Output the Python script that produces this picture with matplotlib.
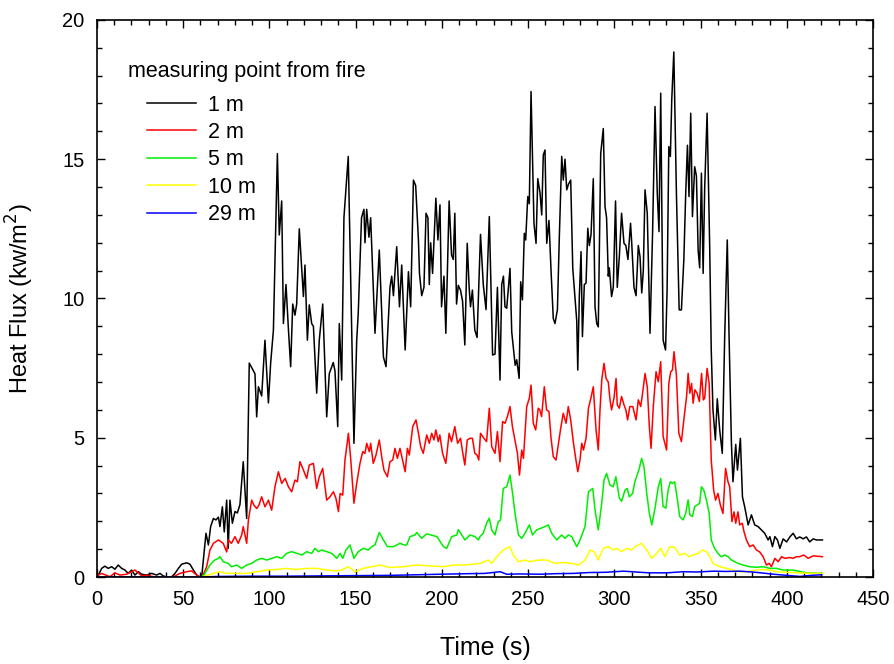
import numpy as np
import matplotlib.pyplot as plt
from matplotlib.ticker import MultipleLocator

plt.rcParams['font.family'] = ['Liberation Sans', 'DejaVu Sans']

# 1 m
t_1m = [0, 0.8, 2.7, 4.6, 6.5, 8.5, 10.4, 12.3, 14.3, 16.2, 18.1, 20.1, 22, 24, 25.9, 28.8, 31.7, 34.6, 36.5,
        38.4, 40.4, 43.3, 45.2, 47.2, 49.1, 52, 53.9, 55.9, 57.8, 59.7, 60.7,
        63.2, 64.6, 65.9, 67.5, 69, 70.4, 71.3, 72.7, 73.8, 75.2, 76.1, 77.1, 78.5, 80, 81.4, 82.9, 84.8, 85.8,
        86.8, 88.3, 91.6, 92.6, 93.6, 95.5, 97.4, 99.4, 100.7, 102.3, 104.6, 105.7, 107.1, 108.1, 109.6, 111,
        112.3, 113.5, 114.8, 115.8, 117.3, 119.7, 120.6, 122, 123.1, 124.5, 125.5, 127.4, 128.9, 130.9, 133.2,
        134.7, 137, 138, 139.6,
        140.5, 141.9, 143.2, 145.7, 149, 150.6, 151.5, 153.4, 154.8, 155.4, 156.4, 157.7, 158.7, 161.2, 163.7,
        166.1, 167.6, 169.9, 170.9, 171.9, 173.8, 175.4, 176.7, 178.7, 180.6, 181.9, 183.5, 184.8, 186.4, 187,
        188.3, 189.6, 190.8, 191.9, 192.7, 193.5, 194.6, 196.5, 197.7, 198.9, 199.8, 201.2, 202.3, 204.2, 205.6,
        206.6, 207.5, 208.5, 209.5, 210.8, 212, 213.3, 214.7, 215.8, 216.6, 217.7, 219.1, 220.4, 222.4,
        224, 225.6, 227.5, 229.4, 230.8, 232.2, 233.7, 234.7, 235.7, 236.6, 237.6, 239.5, 240.5, 242.5, 243.4,
        244.8, 245.7, 246.7, 247.8, 248.6, 249.8, 250.7, 251.7, 253.4, 254.6, 255.6, 256.9, 257.9, 258.8, 259.8,
        260.8, 262.1, 263.3, 264.6, 265.6, 267, 268.1, 269.5, 270.4, 271.4, 272.4, 273.4, 274.7, 275.9, 278.2,
        278.8, 279.7, 280.7, 281.5, 282.6, 283.6, 284.6, 285.5, 286.5, 287.8, 288.8, 289.8, 290.7, 292.1, 293.6,
        294.6, 295.5, 296.5, 297.1, 298.4, 299.4, 300.7, 301.7, 302.9, 304.2, 305.6, 306.7, 307.9, 309.4,
        310.1, 311.4, 312.6, 313.9, 314.9, 315.9, 316.8, 317.8, 319.1, 320.7, 322.2, 323.6, 324.9, 325.9, 326.9,
        328.3, 329.7, 330.6, 331.6, 332.5, 333.3, 334.5, 336, 337.6, 338.9, 340.3, 341.4, 342.4, 343.3, 344.3,
        345.3, 346.6, 347.6, 348.6, 349.5, 350.5, 351.5, 352.4, 353.8, 355.3, 356.2, 357.2, 358.6, 359.7, 361.1,
        362.6, 364, 365.5, 366.5, 367.9, 368.8, 370.4, 371.4, 373.1, 374.3, 375.6, 377.6, 379.5, 381.4, 383.4,
        385.3, 387.2, 389.2, 390.2, 391.7, 393.1, 394.6, 396, 397.9, 399.9, 401.8, 403.7, 405.6, 407.5, 409.5,
        411.4, 413.3, 415.3, 417.2, 420.7]
q_1m = [0.0, 0.07, 0.31, 0.39, 0.31, 0.37, 0.28, 0.43, 0.31, 0.25, 0.13, 0.25, 0.07, 0.19, 0.1, 0.07, 0.13, 0.07,
        0.13, 0.04, 0.0, 0.01, 0.13, 0.31, 0.46, 0.51, 0.46, 0.25, 0.07, 0.0, 0.0,
        1.57, 1.15, 1.81, 2.1, 2.05, 2.15, 1.81, 2.52, 1.62, 2.76, 1.03, 2.76, 1.93, 2.35, 2.3, 2.6, 4.14, 3.12,
        2.1, 7.68, 7.3, 5.75, 6.83, 6.5, 8.5, 6.25, 7.68, 8.86, 15.2, 12.28, 13.5, 9.1, 10.5, 8.9,
        7.55, 9.8, 9.4, 9.8, 12.5, 10.07, 11.2, 8.5, 9.77, 9.1, 9.0, 6.6, 8.5, 9.8, 5.75,
        7.3, 7.7, 7.4, 5.4,
        9.1, 7.07, 12.9, 15.1, 4.8, 8.5, 9.47, 12.9, 13.2, 12.0, 13.2, 12.2, 12.9, 8.75, 11.74,
        7.9, 7.55, 10.4, 10.8, 10.1, 11.86, 9.7, 11.2, 8.15, 10.96, 9.7, 14.25, 14.05, 12.1, 10.9,
        10.1, 10.4, 13.06, 12.9, 10.5, 12.0, 10.9, 13.6, 12.1, 13.36, 9.7, 10.8, 8.75, 13.5, 11.56,
        11.4, 13.06, 9.8, 10.47, 10.3, 9.9, 8.33, 11.98, 10.4, 9.7, 10.3, 8.87, 8.6, 12.3,
        10.5, 9.6, 12.94, 7.97, 8.0, 10.4, 7.07, 10.5, 10.8, 9.7, 9.65, 11.08, 8.8, 7.6, 7.8,
        7.13, 10.6, 9.95, 12.34, 12.1, 13.66, 13.4, 17.43, 12.7, 11.98, 14.3, 13.8, 13.0, 15.15, 15.33,
        11.98, 12.8, 11.0, 9.28, 9.1, 9.6, 12.2, 15.1, 14.25, 15.0, 13.9, 14.1, 14.25, 11.08, 9.2,
        7.43, 10.07, 11.68, 8.63, 10.5, 10.55, 12.52, 11.9, 12.3, 14.3, 9.7, 9.1, 8.98, 15.2, 16.1,
        13.3, 12.9, 10.8, 11.1, 10.07, 10.4, 13.5, 10.4, 11.5, 13.06, 11.98, 11.9, 11.4, 12.7,
        11.98, 10.4, 10.1, 11.9, 11.5, 10.2, 11.0, 13.9, 13.06, 8.75, 12.4, 16.89, 13.78, 12.4, 17.37,
        8.5, 8.15, 10.3, 15.45, 15.1, 17.13, 18.85, 13.78, 9.59, 9.59, 11.38, 13.78, 15.5, 13.66, 16.65,
        12.94, 14.73, 14.4, 11.74, 11.1, 14.5, 10.9, 13.97, 16.65, 11.85, 8.15, 6.0, 4.92, 6.4, 5.28,
        4.44, 8.63, 12.1, 8.75, 4.8, 3.42, 4.76, 3.84, 4.98, 2.88, 2.52, 1.87, 2.23, 1.87, 1.81,
        1.69, 1.57, 1.33, 1.45, 1.09, 1.45, 1.33, 1.03, 1.37, 1.26, 1.44, 1.57, 1.37, 1.44, 1.37,
        1.44, 1.26, 1.37, 1.33, 1.33]

# 2 m
t_2m = [0, 0.8, 2.7, 7.5, 10.4, 13.3, 17.2, 20.1, 22, 24, 25.9, 28.8, 32.7, 40.4, 44.3, 48.1, 52, 54.9, 57.8,
        59.7, 61,
        63.6, 65.5, 67.5, 70.4, 73.2, 75.2, 76.1, 78, 80, 81.9, 83.9, 84.8, 86.8, 87.8, 89.7, 91, 92.6, 93.9,
        95.5, 97.4, 99.4, 101.3, 103.2, 105.2, 107.1, 109.1, 111, 112.9, 114.8, 116.2, 117.7, 119.7, 121.6,
        123.1, 125.5, 127.4, 128.9, 130.9, 133.2, 135.1, 137.1, 138.6, 140,
        141, 142.5, 143.8, 145.8, 147.1, 149, 150.6, 152.5, 154.1, 155.4, 156.4, 157.9, 158.7, 160.2, 161.8,
        163.7, 165.1, 166.4, 168.4, 169.9, 171.5, 172.8, 174.2, 175.7, 177.2, 178.7, 180, 181.1, 183.1, 185,
        186.4, 187.7, 189.2, 191.2, 192.7, 194.1, 195.4, 196.5, 197.9, 198.8, 200.4, 202.3, 204.2, 205.6,
        207.5, 209.1, 210.8, 212, 213.3, 214.7, 216.3, 217.7, 219.1, 220.4, 221.4, 222.4,
        224.4, 225.9, 227.5, 228.9, 230.8, 232.2, 233.7, 235.2, 236.6, 238, 239.5, 240.9, 242.5, 243.8, 245,
        246.3, 247.3, 249.2, 250.7, 251.7, 253, 254.4, 255.9, 256.8, 257.8, 259.4, 260.7, 262.1, 263.3, 264.6,
        266.2, 267.5, 268.9, 270.4, 272, 273.3, 274.7, 276.2, 277.6, 278.8, 280.1, 281.1, 282.1, 283.6, 285,
        286.4, 287.8, 289.4, 290.7, 291.7, 292.7, 294, 295.2, 296.5, 297.5, 298.4, 299.8, 301, 301.7, 302.9,
        304.2, 305.6, 306.7, 307.7, 309,
        310.7, 312.6, 313.9, 315.3, 316.4, 317.8, 319.1, 320.3, 321.3, 322.6, 324.2, 325.5, 326.9, 328.3,
        330.3, 331.6, 332.7, 333.7, 334.6, 336, 337.4, 338.9, 340.3, 341.9, 342.8, 343.8, 344.8, 345.7, 346.7,
        348, 349.3, 350.6, 351.6, 352.4, 353.8, 355, 356.2, 357.6, 358.7, 360.1, 361.5, 363, 364.5, 365.9,
        366.9, 368.2, 369.4, 370.4, 371.7, 372.7, 374.2, 375.2, 376.6, 378.5, 380.5, 382.4, 384.3, 386.3,
        388.2, 389.8, 391.1, 393.1, 395, 397, 398.9, 401.8, 403.7, 405.6, 407.5, 409.9, 412.4, 415.3, 420.7]
q_2m = [0.0, 0.07, 0.13, 0.01, 0.15, 0.07, 0.1, 0.19, 0.25, 0.15, 0.04, 0.07, 0.01, 0.0, 0.01, 0.13, 0.19, 0.22,
        0.07, 0.0, 0.0,
        0.37, 0.97, 1.21, 1.33, 1.21, 0.9, 1.33, 1.21, 1.45, 1.21, 1.51, 1.81, 1.21, 2.05, 2.76, 2.58, 2.46, 2.58,
        2.88, 2.52, 2.76, 2.4, 3.24, 3.78, 3.36, 3.54, 3.24, 3.06, 3.48, 3.42, 4.14, 3.84, 3.54,
        4.02, 4.08, 3.18, 3.6, 3.9, 2.76, 2.88, 3.06, 2.82, 2.35,
        3.0, 2.94, 4.2, 5.16, 4.26, 2.65, 3.36, 4.08, 4.5, 4.44, 4.8, 4.5, 4.8, 4.08, 4.38,
        4.92, 4.32, 3.84, 3.6, 4.14, 4.2, 4.62, 4.26, 4.62, 4.2, 3.78, 4.62, 4.38, 5.4, 5.64,
        5.16, 4.68, 4.44, 5.1, 4.8, 5.16, 4.92, 5.28, 4.86, 5.1, 4.44, 4.08, 5.16, 4.86,
        5.4, 4.8, 4.98, 4.5, 4.02, 4.92, 4.98, 4.98, 4.44, 4.38, 4.2, 5.16,
        4.98, 4.86, 6.06, 4.68, 4.44, 5.22, 4.14, 5.58, 5.52, 5.76, 6.12, 5.4, 4.86, 4.44, 3.66,
        4.56, 4.26, 6.12, 6.42, 6.89, 5.52, 5.28, 6.06, 6.0, 5.76, 6.83, 6.0, 5.94, 4.98, 4.32,
        4.2, 4.74, 5.34, 5.88, 5.52, 6.12, 5.64, 4.86, 4.26, 3.78, 4.2, 4.8, 4.56, 4.98, 6.06,
        6.42, 6.83, 5.28, 4.56, 6.0, 7.07, 7.67, 7.13, 7.0, 6.36, 6.0, 6.42, 7.13, 6.18, 6.06,
        6.48, 6.18, 6.0, 5.64, 6.12,
        6.12, 5.64, 6.36, 6.12, 6.6, 7.31, 6.83, 5.4, 4.62, 6.12, 7.37, 7.01, 7.73, 5.04,
        4.56, 6.95, 7.37, 7.43, 8.09, 7.25, 5.16, 4.86, 5.64, 6.48, 7.31, 6.6, 6.95, 6.24, 6.72,
        6.6, 6.3, 7.31, 6.36, 6.42, 7.49, 6.95, 4.2, 3.12, 2.76, 3.0, 2.58, 2.28, 3.9, 3.42,
        3.24, 1.99, 2.34, 1.93, 2.34, 1.87, 1.93, 1.63, 1.33, 1.09, 1.15, 0.97, 0.9, 0.73,
        0.43, 0.49, 0.37, 0.67, 0.55, 0.73, 0.67, 0.7, 0.67, 0.73, 0.73, 0.79, 0.67, 0.76, 0.73]

# 5 m
t_5m = [0, 20, 40, 60, 61.8, 65.5, 68, 70.4, 71.3, 73.2, 76.1, 78, 81, 83.9, 86.8, 89.7, 92.6, 95.5, 98.4,
        101.3, 104.2, 107.1, 110, 112.9, 115.8, 118.8, 121.6, 124.5, 126.4, 128.4, 130.3, 133.2, 136.1, 139,
        141, 142.5, 144.4, 146.7, 149, 151.5, 154.4, 157.3, 159.3, 161.2, 163.7, 166.1, 168.4, 171.9, 173.8,
        175.7, 178.1, 179.6, 181.5, 184.4, 185.4, 188.3, 191.2, 194.1, 197.1, 200.9, 202.8, 205.7, 208.6,
        209.5, 213.4, 216.3, 219.2, 221.1, 222.1, 224, 225.9, 227.5, 228.9, 230.8, 232.7, 234, 235.6, 237.6,
        239.5, 241, 242.4, 244.4, 246.3, 248.2, 250.7, 252.6, 254.9, 257.3, 259.8, 261.7, 263.7, 266.6, 269.5,
        271.4, 273.4, 275.3, 278.2, 280.1, 283, 285, 287.5, 288.8, 290.7, 292.7, 294, 295.5, 297.5, 299.4,
        300.9, 302.9, 304.2, 306.2, 307.5, 308.7, 310.6, 311.9, 312.9, 314.5, 315.8, 317.2, 318.8, 320.3,
        321.7, 323.6, 325.5, 326.9, 328.3, 329.9, 331.2, 332.5, 333.7, 335, 336.6, 337.9, 339.9, 341.4, 342.8,
        343.8, 345.3, 346.6, 348.2, 349.5, 350.5, 351.9, 353.4, 355, 356.2, 358.1, 360.1, 362, 364, 365.9,
        367.9, 369.8, 371.7, 374.6, 378.5, 382.4, 386.3, 390.2, 394, 397.9, 403.7, 411.4, 420.7]
q_5m = [0, 0, 0, 0, 0.05, 0.43, 0.6, 0.67, 0.73, 0.55, 0.49, 0.37, 0.43, 0.31, 0.43, 0.49, 0.61, 0.67, 0.61,
        0.67, 0.73, 0.67, 0.85, 0.91, 0.85, 0.79, 0.91, 0.85, 1.03, 0.91, 0.97, 0.91, 0.85, 0.67,
        0.85, 0.67, 0.97, 1.15, 0.67, 0.91, 1.03, 0.97, 1.09, 1.15, 1.6, 1.33, 1.09, 1.09, 1.15,
        1.21, 1.15, 1.15, 1.45, 1.51, 1.6, 1.39, 1.55, 1.5, 1.45, 1.09, 1.03, 1.45, 1.51,
        1.7, 1.33, 1.51, 1.45, 1.33, 1.45, 1.57, 1.93, 2.11, 1.69, 1.51, 1.99, 2.05, 3.18, 3.24,
        3.66, 3.0, 2.29, 1.51, 1.39, 1.57, 1.87, 1.51, 1.69, 1.75, 1.81, 1.87, 1.57, 1.33, 1.51,
        1.39, 1.51, 1.45, 1.09, 1.33, 1.81, 3.06, 3.18, 2.41, 1.69, 2.65, 3.48, 3.72, 3.3, 3.24,
        3.6, 2.84, 2.72, 3.12, 3.18, 2.88, 3.0, 3.42, 3.6, 3.9, 4.26, 3.96, 3.0, 2.29,
        1.87, 2.47, 3.24, 3.54, 2.53, 2.47, 3.12, 3.42, 3.36, 3.42, 2.77, 2.17, 2.05, 2.29, 2.77,
        2.23, 2.17, 2.53, 2.59, 2.65, 3.24, 3.12, 2.77, 2.29, 1.33, 1.03, 0.85, 0.73, 0.79, 0.73,
        0.61, 0.55, 0.49, 0.43, 0.37, 0.35, 0.37, 0.31, 0.31, 0.25, 0.25, 0.15, 0.13]

# 10 m
t_10m = [0, 30, 60, 62, 67.5, 71.3, 75.2, 81, 86.8, 92.6, 98.4, 104.2, 110, 115.8, 121.6, 127.4, 133.2, 139,
         142, 145.8, 149.6, 154.4, 164.1, 169.9, 177.7, 185.4, 193.1, 200.9, 206.6, 212.4, 218.2, 222.1, 226.9,
         228.9, 231.8, 235.6, 239.5, 241.4, 244.4, 248.2, 251.1, 255.9, 260.8, 265.6, 270.4, 275.3, 279.2, 283,
         285.9, 288.2, 290.7, 293.6, 296.5, 299.4, 301.3, 304.2, 307.1, 310, 312, 315.8, 318.8, 321.7, 324.6,
         326.9, 329.3, 332.2, 335, 337.9, 340.9, 343.3, 345.7, 348.6, 351.1, 353.4, 355.4, 357.2, 361.1, 365,
         368.8, 372.7, 376.6, 382.4, 386.3, 390.2, 394, 400, 410, 420.7]
q_10m = [0, 0, 0, 0.02, 0.13, 0.19, 0.13, 0.13, 0.13, 0.19, 0.25, 0.27, 0.31, 0.27, 0.31, 0.31, 0.25, 0.22,
         0.25, 0.37, 0.19, 0.31, 0.43, 0.34, 0.37, 0.43, 0.4, 0.37, 0.43, 0.43, 0.46, 0.49, 0.61,
         0.49, 0.73, 0.97, 1.09, 0.79, 0.55, 0.61, 0.55, 0.61, 0.61, 0.49, 0.52, 0.49, 0.43, 0.61,
         0.97, 0.91, 0.61, 1.03, 1.09, 0.97, 1.03, 0.91, 1.03, 0.97, 1.09, 1.21, 0.97, 0.67, 0.85,
         1.03, 0.73, 1.09, 1.06, 0.79, 0.85, 0.73, 0.79, 0.85, 0.97, 0.91, 0.73, 0.49, 0.37, 0.31,
         0.25, 0.19, 0.19, 0.25, 0.27, 0.25, 0.19, 0.17, 0.14, 0.13]

# 29 m
t_29m = [0, 30, 60, 70, 90, 110, 130, 150, 170, 185, 199, 215, 225, 233.8, 237.6, 245, 257, 266, 276.3, 285,
         295, 305.3, 315, 320, 330.4, 340, 348, 357.4, 365, 372.9, 380, 385, 392.2, 400, 407.7, 414, 420.3]
q_29m = [0.0, 0.0, 0.0, 0.02, 0.03, 0.03, 0.04, 0.05, 0.06, 0.08, 0.1, 0.12, 0.13, 0.19, 0.1, 0.11, 0.1, 0.12,
         0.13, 0.16, 0.17, 0.21, 0.17, 0.15, 0.15, 0.19, 0.18, 0.21, 0.2, 0.21, 0.18, 0.15, 0.1, 0.06, 0.02,
         0.06, 0.08]

series = [(t_1m, q_1m, 'black', '1 m'),
          (t_2m, q_2m, 'red', '2 m'),
          (t_5m, q_5m, '#00ee00', '5 m'),
          (t_10m, q_10m, '#ffff00', '10 m'),
          (t_29m, q_29m, 'blue', '29 m')]

fig = plt.figure(figsize=(8.94, 6.64), dpi=100)
ax = fig.add_axes([0.1085, 0.131, 0.868, 0.839])

for t, q, c, lab in series:
    ax.plot(t, q, color=c, lw=1.1, label=lab)

ax.set_xlim(0, 450)
ax.set_ylim(0, 20)
ax.xaxis.set_major_locator(MultipleLocator(50))
ax.xaxis.set_minor_locator(MultipleLocator(10))
ax.yaxis.set_major_locator(MultipleLocator(5))
ax.yaxis.set_minor_locator(MultipleLocator(1))
ax.tick_params(which='both', direction='in', top=True, right=True, labelsize=14.5, width=1.0)
ax.tick_params(which='major', length=6, pad=9)
ax.tick_params(which='minor', length=3.5)
for s in ax.spines.values():
    s.set_linewidth(1.2)

ax.set_xlabel('Time (s)', fontsize=18, labelpad=20)
ax.set_ylabel('Heat Flux (kw/m$^2$)', fontsize=17, labelpad=19)

ax.text(0.04, 0.908, 'measuring point from fire', transform=ax.transAxes,
        fontsize=15.5, va='center', ha='left')
ax.legend(loc='upper left', bbox_to_anchor=(0.0644, 0.866), frameon=False, fontsize=15.5,
          borderpad=0, borderaxespad=0, handlelength=2.3, handletextpad=0.55, labelspacing=0.3)

fig.savefig('out.png', dpi=100)
